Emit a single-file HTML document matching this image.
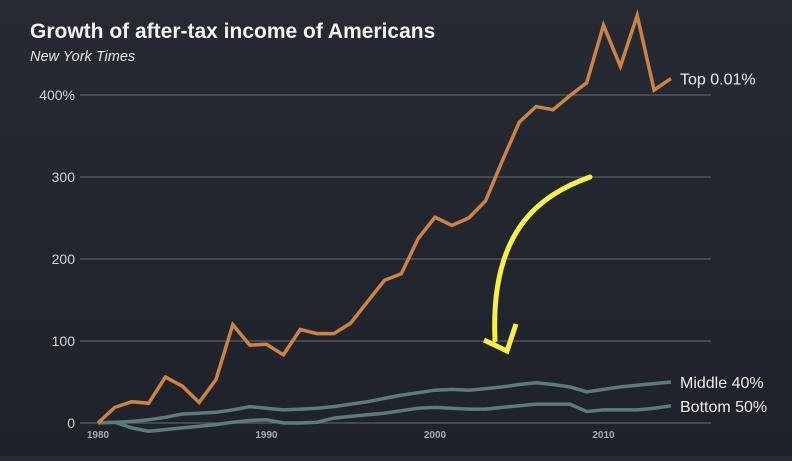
<!DOCTYPE html>
<html><head><meta charset="utf-8"><style>
html,body{margin:0;padding:0;}
body{width:792px;height:456px;overflow:hidden;background:linear-gradient(180deg,#262a31,#1f2329);font-family:"Liberation Sans",sans-serif;}
</style></head><body>
<svg id="chart" width="792" height="456" viewBox="0 0 792 456" xmlns="http://www.w3.org/2000/svg">
<text x="30" y="38" fill="#f2f2f2" font-size="21" font-weight="bold">Growth of after-tax income of Americans</text>
<text x="30" y="61" fill="#e6e6e6" font-size="14.5" font-style="italic">New York Times</text>
<g id="grid"></g><g id="series"></g>
<path d="M590,177 C540,195 490,230 495,340" fill="none" stroke="#f5f04a" stroke-width="5" stroke-linecap="round"/>
<path d="M484,340 L507,351 L516,324" fill="none" stroke="#f5f04a" stroke-width="5"/>
</svg>
<script>
const years=[];for(let y=1980;y<=2014;y++)years.push(y);
const top001=[0,19,26,24,56,45,25,53,120,95,96,83,114,109,109,122,148,174,182,225,251,241,250,271,320,367,386,382,399,415,485,435,497,406,420];
const middle40=[0,1,2,4,7,11,12,13,16,20,18,16,17,18,20,23,26,30,34,37,40,41,40,42,44,47,49,47,44,38,41,44,46,48,50];
const bottom50=[0,1,-6,-10,-8,-6,-4,-2,1,3,4,0,0,1,6,8,10,12,15,18,19,18,17,17,19,21,23,23,23,14,16,16,16,18,21];
const yTicks=[0,100,200,300,400];
const yTickLabels=["0","100","200","300","400%"];
const xTicks=[1980,1990,2000,2010];
const xTickLabels=["1980","1990","2000","2010"];
const seriesNames=["Top 0.01%","Middle 40%","Bottom 50%"];
const NS="http://www.w3.org/2000/svg";
const x=v=>98+(v-1980)*16.85;
const y=v=>423-v*0.82;
const grid=document.getElementById('grid'),ser=document.getElementById('series');
function mk(tag,attrs,parent){const e=document.createElementNS(NS,tag);for(const k in attrs)e.setAttribute(k,attrs[k]);parent.appendChild(e);return e;}
yTicks.forEach((t,i)=>{
 const l=mk('line',{x1:80,x2:711,y1:y(t),y2:y(t),stroke:'#5a5f66','stroke-width':1.3},grid);
 
 
 const tx=mk('text',{x:75,y:y(t)+5,fill:'#d0d2d5','font-size':14,'text-anchor':'end'},grid);
 tx.textContent=yTickLabels[i];
 
 
});
xTicks.forEach((t,i)=>{
 const tx=mk('text',{x:x(t),y:438,fill:'#a8abb0','font-size':10,'font-weight':'bold','text-anchor':'middle'},grid);
 tx.textContent=xTickLabels[i];
 
 
});
function line(vals,color,name,label){
 const d=vals.map((v,i)=>(i?'L':'M')+x(years[i]).toFixed(1)+','+y(v).toFixed(1)).join(' ');
 const p=mk('path',{d:d,fill:'none',stroke:color,'stroke-width':3.5,'stroke-linejoin':'miter'},ser);
 
 
 const last=vals[vals.length-1];
 const t=mk('text',{x:680,y:y(last)+6,fill:'#ececec','font-size':16},ser);
 t.textContent=label;
 
 
}
line(bottom50,'#5c7b7b','bottom-50-line',seriesNames[2]);
line(middle40,'#5c7b7b','middle-40-line',seriesNames[1]);
line(top001,'#cc8347','top-001-line',seriesNames[0]);
</script>
</body></html>
